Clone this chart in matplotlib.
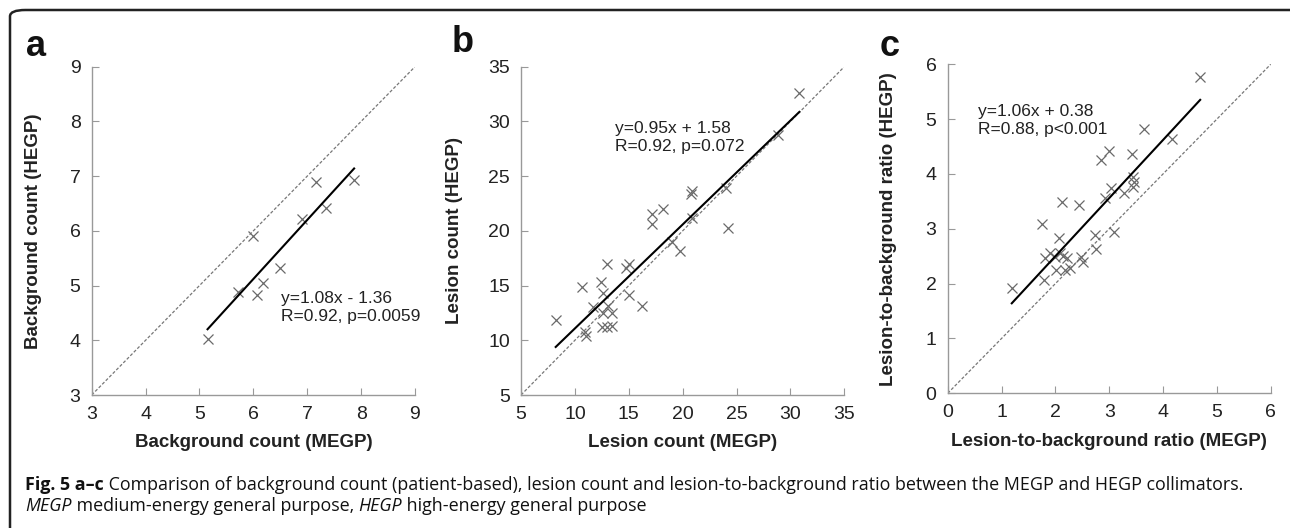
import numpy as np
import matplotlib
matplotlib.use('Agg')
import matplotlib.pyplot as plt
from matplotlib.patches import FancyBboxPatch

plt.rcParams.update({
    'font.family': ['Liberation Sans', 'DejaVu Sans'],
    'font.size': 13,
})

# ---- data ----
bg_megp = [5.15, 5.72, 6.00, 6.07, 6.17, 6.49, 6.91, 7.17, 7.34, 7.87]
bg_hegp = [4.02, 4.88, 5.91, 4.83, 5.05, 5.33, 6.22, 6.89, 6.42, 6.93]

les_megp = [8.22, 10.63, 10.94, 11.03, 11.71, 12.42, 12.63, 12.58, 12.95, 13.10,
            12.49, 12.95, 13.41, 13.41, 14.75, 15.05, 15.05, 16.20, 17.20, 17.12,
            18.14, 20.83, 20.74, 20.83, 19.04, 19.75, 24.00, 24.23, 28.88, 30.83]
les_hegp = [11.86, 14.84, 10.79, 10.39, 13.05, 15.30, 14.30, 12.47, 16.96, 13.10,
            11.24, 11.24, 11.30, 12.47, 16.60, 16.95, 14.14, 13.10, 21.55, 20.60,
            21.97, 23.67, 23.36, 21.20, 19.00, 18.20, 23.88, 20.29, 28.76, 32.56]

lbr_megp = [1.19, 1.75, 1.78, 1.81, 1.90, 1.99, 2.01, 2.07, 2.09, 2.12, 2.15,
            2.18, 2.21, 2.27, 2.43, 2.47, 2.52, 2.74, 2.76, 2.84, 2.92, 3.00,
            3.03, 3.08, 3.28, 3.42, 3.45, 3.46, 3.45, 3.65, 4.16, 4.69]
lbr_hegp = [1.92, 3.08, 2.07, 2.46, 2.56, 2.49, 2.25, 2.83, 2.55, 3.49, 2.50,
            2.25, 2.46, 2.28, 3.43, 2.48, 2.40, 2.89, 2.64, 4.25, 3.57, 4.42,
            3.74, 2.95, 3.65, 4.36, 3.95, 3.86, 3.77, 4.82, 4.63, 5.77]

fits = [(1.08, -1.36), (0.95, 1.58), (1.06, 0.38)]
fit_texts = ['y=1.08x - 1.36\nR=0.92, p=0.0059',
             'y=0.95x + 1.58\nR=0.92, p=0.072',
             'y=1.06x + 0.38\nR=0.88, p<0.001']
text_pos = [(6.52, 4.60), (13.72, 28.5), (0.57, 4.98)]
limits = [(3, 9), (5, 35), (0, 6)]
ticks = [range(3, 10), range(5, 36, 5), range(0, 7)]
xlabels = ['Background count (MEGP)', 'Lesion count (MEGP)',
           'Lesion-to-background ratio (MEGP)']
ylabels = ['Background count (HEGP)', 'Lesion count (HEGP)',
           'Lesion-to-background ratio (HEGP)']
panel_letters = ['a', 'b', 'c']

W, H = 1290, 528
fig = plt.figure(figsize=(W / 100, H / 100), dpi=100)

# rounded frame, partially off the canvas like the original
frame = FancyBboxPatch((10 / W, -0.05), 1.2, 1.05 - 10 / H,
                       boxstyle='round,pad=0,rounding_size=0.012',
                       transform=fig.transFigure, facecolor='none',
                       edgecolor='#222222', linewidth=1.8)
fig.patches.append(frame)

axes_px = [(91.7, 66.7, 415, 395), (521, 66.7, 844.3, 395), (947.7, 64.3, 1270.7, 393.3)]
letter_px = [(26, 46), (452, 43), (880, 46)]
ylab_px = [41.7, 463, 896.7]

datasets = [(bg_megp, bg_hegp), (les_megp, les_hegp), (lbr_megp, lbr_hegp)]

for i, (xs, ys) in enumerate(datasets):
    l, t, r, b = axes_px[i]
    ax = fig.add_axes([l / W, 1 - b / H, (r - l) / W, (b - t) / H])
    lo, hi = limits[i]
    ax.plot([lo, hi], [lo, hi], ls=(0, (2.5, 1.5)), color='#777777', lw=0.9)
    ax.plot(xs, ys, 'x', color='#6a6a6a', markersize=7, mew=0.9)
    k, c = fits[i]
    xr = np.array([min(xs), max(xs)])
    ax.plot(xr, k * xr + c, color='black', lw=1.5)
    ax.text(*text_pos[i], fit_texts[i], fontsize=12.5, color='#222222',
            linespacing=1.25, va='center')
    ax.set_xlim(lo, hi)
    ax.set_ylim(lo, hi)
    ax.set_xticks(list(ticks[i]))
    ax.set_yticks(list(ticks[i]))
    for s in ['top', 'right']:
        ax.spines[s].set_visible(False)
    for s in ['left', 'bottom']:
        ax.spines[s].set_color('#999999')
        ax.spines[s].set_linewidth(1.0)
    ax.tick_params(direction='in', length=5, color='#999999', labelsize=14,
                   labelcolor='#222222', pad=8)
    ax.set_xlabel(xlabels[i], fontsize=13.5, fontweight='bold', color='#222222', labelpad=8)
    ax.yaxis.set_label_coords((ylab_px[i] - l) / (r - l), 0.5)
    ax.set_ylabel(ylabels[i], fontsize=13.5, fontweight='bold', color='#222222')
    lx, ly = letter_px[i]
    fig.text(lx / W, 1 - ly / H, panel_letters[i], fontsize=26, fontweight='bold',
             va='center', ha='left', color='#111111')

# caption with mixed styles
renderer = fig.canvas.get_renderer()
cap_font = ['Open Sans', 'DejaVu Sans']


def put_runs(runs, x0, y0):
    x = x0
    for txt, style in runs:
        kw = dict(fontsize=12.9, family=cap_font, va='baseline', ha='left', color='#111111')
        if style == 'bold':
            kw['fontweight'] = 'bold'
        elif style == 'italic':
            kw['fontstyle'] = 'italic'
        tt = fig.text(x / W, 1 - y0 / H, txt, **kw)
        bb = tt.get_window_extent(renderer=renderer)
        x = bb.x1


put_runs([('Fig. 5 a\u2013c', 'bold'),
          (' Comparison of background count (patient-based), lesion count and lesion-to-background '
           'ratio between the MEGP and HEGP collimators.', 'normal')], 25, 490)
put_runs([('MEGP', 'italic'), (' medium-energy general purpose, ', 'normal'),
          ('HEGP', 'italic'), (' high-energy general purpose', 'normal')], 25, 511)

fig.savefig('out.png', dpi=100)
